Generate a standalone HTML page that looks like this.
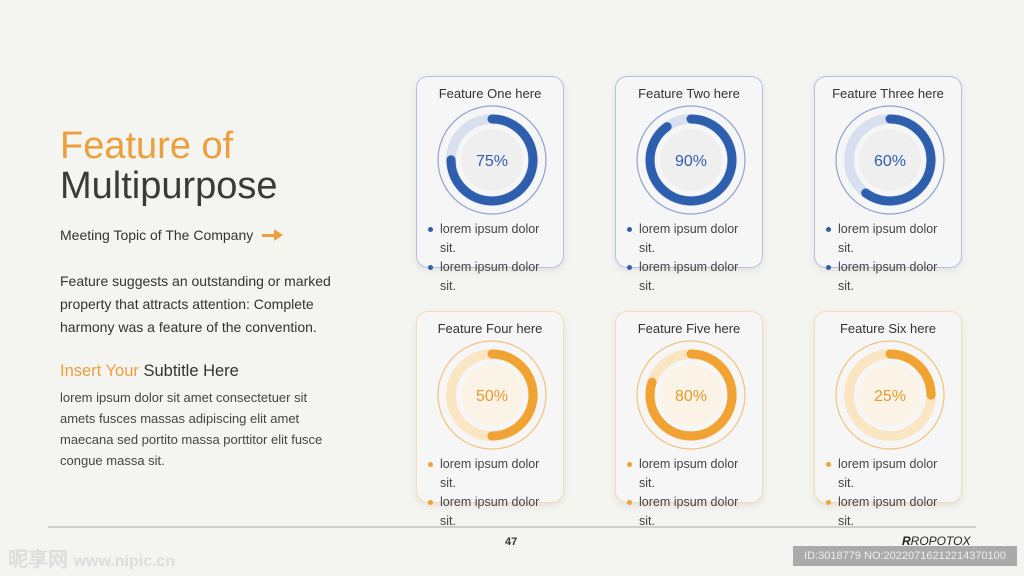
<!DOCTYPE html><html><head><meta charset="utf-8"><style>
body{margin:0;width:1024px;height:576px;background:#f4f4f1;position:relative;overflow:hidden;font-family:"Liberation Sans",sans-serif;color:#333}
.a{position:absolute;white-space:nowrap}
.card{position:absolute;width:146px;height:190px;border-radius:12px;background:#f6f6f6;box-shadow:0 3px 8px rgba(0,0,0,.08)}
.card.b{border:1.5px solid #b5c2df}.card.o{border:1.5px solid #f5dcb4}
.t{position:absolute;top:9px;left:0;width:146px;text-align:center;font-size:13px;color:#333}
.card svg{position:absolute;left:20px;top:28px}
.li{position:absolute;font-size:12.5px;color:#444;line-height:19px;white-space:nowrap}
.li i{position:absolute;left:-12px;top:7px;width:5px;height:5px;border-radius:50%}
</style></head><body>
<div class="a" style="left:60px;top:125px;font-size:38px;color:#eba03d">Feature of</div>
<div class="a" style="left:60px;top:165px;font-size:38px;color:#3a3a3a">Multipurpose</div>
<div class="a" style="left:60px;top:227px;font-size:14px">Meeting Topic of The Company</div>
<div class="a" style="left:262px;top:234px;width:14px;height:3px;background:#eba03d"></div>
<div class="a" style="left:274px;top:229px;width:0;height:0;border-left:9px solid #eba03d;border-top:6px solid transparent;border-bottom:6px solid transparent"></div>
<div class="a" style="left:60px;top:270px;font-size:14px;line-height:23px">Feature suggests an outstanding or marked<br>property that attracts attention: Complete<br>harmony was a feature of the convention.</div>
<div class="a" style="left:60px;top:362px;font-size:16.5px"><span style="color:#eba03d">Insert Your</span> Subtitle Here</div>
<div class="a" style="left:60px;top:387px;font-size:13px;line-height:21px;color:#444">lorem ipsum dolor sit amet consectetuer sit<br>amets fusces massas adipiscing elit amet<br>maecana sed portito massa porttitor elit fusce<br>congue massa sit.</div>

<div class="card b" style="left:416px;top:76px"><div class="t">Feature One here</div>
<svg width="110" height="110"><circle cx="55" cy="55" r="54" fill="none" stroke="#8ea3cf" stroke-width="1.2"/><circle cx="55" cy="55" r="41" fill="none" stroke="#d8e0ef" stroke-width="10"/><circle cx="55" cy="55" r="41" fill="none" stroke="#2e5fae" stroke-width="9" stroke-linecap="round" stroke-dasharray="193.2 300" transform="rotate(-90 55 55)"/><circle cx="55" cy="55" r="31" fill="#efefef"/><text x="55" y="61" text-anchor="middle" font-size="16" fill="#2e5fae" font-family="Liberation Sans">75%</text></svg></div>
<div class="card b" style="left:615px;top:76px"><div class="t">Feature Two here</div>
<svg width="110" height="110"><circle cx="55" cy="55" r="54" fill="none" stroke="#8ea3cf" stroke-width="1.2"/><circle cx="55" cy="55" r="41" fill="none" stroke="#d8e0ef" stroke-width="10"/><circle cx="55" cy="55" r="41" fill="none" stroke="#2e5fae" stroke-width="9" stroke-linecap="round" stroke-dasharray="231.8 300" transform="rotate(-90 55 55)"/><circle cx="55" cy="55" r="31" fill="#efefef"/><text x="55" y="61" text-anchor="middle" font-size="16" fill="#2e5fae" font-family="Liberation Sans">90%</text></svg></div>
<div class="card b" style="left:814px;top:76px"><div class="t">Feature Three here</div>
<svg width="110" height="110"><circle cx="55" cy="55" r="54" fill="none" stroke="#8ea3cf" stroke-width="1.2"/><circle cx="55" cy="55" r="41" fill="none" stroke="#d8e0ef" stroke-width="10"/><circle cx="55" cy="55" r="41" fill="none" stroke="#2e5fae" stroke-width="9" stroke-linecap="round" stroke-dasharray="154.6 300" transform="rotate(-90 55 55)"/><circle cx="55" cy="55" r="31" fill="#efefef"/><text x="55" y="61" text-anchor="middle" font-size="16" fill="#2e5fae" font-family="Liberation Sans">60%</text></svg></div>
<div class="card o" style="left:416px;top:311px"><div class="t">Feature Four here</div>
<svg width="110" height="110"><circle cx="55" cy="55" r="54" fill="none" stroke="#f2c27e" stroke-width="1.2"/><circle cx="55" cy="55" r="41" fill="none" stroke="#fbe6c4" stroke-width="10"/><circle cx="55" cy="55" r="41" fill="none" stroke="#f0a232" stroke-width="9" stroke-linecap="round" stroke-dasharray="128.8 300" transform="rotate(-90 55 55)"/><circle cx="55" cy="55" r="31" fill="#fbf3e6"/><text x="55" y="61" text-anchor="middle" font-size="16" fill="#e8992e" font-family="Liberation Sans">50%</text></svg></div>
<div class="card o" style="left:615px;top:311px"><div class="t">Feature Five here</div>
<svg width="110" height="110"><circle cx="55" cy="55" r="54" fill="none" stroke="#f2c27e" stroke-width="1.2"/><circle cx="55" cy="55" r="41" fill="none" stroke="#fbe6c4" stroke-width="10"/><circle cx="55" cy="55" r="41" fill="none" stroke="#f0a232" stroke-width="9" stroke-linecap="round" stroke-dasharray="206 300" transform="rotate(-90 55 55)"/><circle cx="55" cy="55" r="31" fill="#fbf3e6"/><text x="55" y="61" text-anchor="middle" font-size="16" fill="#e8992e" font-family="Liberation Sans">80%</text></svg></div>
<div class="card o" style="left:814px;top:311px"><div class="t">Feature Six here</div>
<svg width="110" height="110"><circle cx="55" cy="55" r="54" fill="none" stroke="#f2c27e" stroke-width="1.2"/><circle cx="55" cy="55" r="41" fill="none" stroke="#fbe6c4" stroke-width="10"/><circle cx="55" cy="55" r="41" fill="none" stroke="#f0a232" stroke-width="9" stroke-linecap="round" stroke-dasharray="64.4 300" transform="rotate(-90 55 55)"/><circle cx="55" cy="55" r="31" fill="#fbf3e6"/><text x="55" y="61" text-anchor="middle" font-size="16" fill="#e8992e" font-family="Liberation Sans">25%</text></svg></div>

<div class="li" style="left:440px;top:220px"><i style="background:#2e5fae"></i>lorem ipsum dolor<br>sit.</div>
<div class="li" style="left:440px;top:258px"><i style="background:#2e5fae"></i>lorem ipsum dolor<br>sit.</div>
<div class="li" style="left:639px;top:220px"><i style="background:#2e5fae"></i>lorem ipsum dolor<br>sit.</div>
<div class="li" style="left:639px;top:258px"><i style="background:#2e5fae"></i>lorem ipsum dolor<br>sit.</div>
<div class="li" style="left:838px;top:220px"><i style="background:#2e5fae"></i>lorem ipsum dolor<br>sit.</div>
<div class="li" style="left:838px;top:258px"><i style="background:#2e5fae"></i>lorem ipsum dolor<br>sit.</div>
<div class="li" style="left:440px;top:455px"><i style="background:#f0a232"></i>lorem ipsum dolor<br>sit.</div>
<div class="li" style="left:440px;top:493px"><i style="background:#f0a232"></i>lorem ipsum dolor<br>sit.</div>
<div class="li" style="left:639px;top:455px"><i style="background:#f0a232"></i>lorem ipsum dolor<br>sit.</div>
<div class="li" style="left:639px;top:493px"><i style="background:#f0a232"></i>lorem ipsum dolor<br>sit.</div>
<div class="li" style="left:838px;top:455px"><i style="background:#f0a232"></i>lorem ipsum dolor<br>sit.</div>
<div class="li" style="left:838px;top:493px"><i style="background:#f0a232"></i>lorem ipsum dolor<br>sit.</div>

<div class="a" style="left:48px;top:526px;width:928px;height:2px;background:#cfcfcb"></div>
<div class="a" style="left:505px;top:536px;font-size:11px;font-weight:bold">47</div>
<div class="a" style="left:902px;top:534px;font-size:12px;font-style:italic;color:#222"><b>R</b>ROPOTOX</div>
<div class="a" style="left:8px;top:543px;font-size:20px;font-weight:bold;color:#ddd">昵享网 <span style="font-size:16px">www.nipic.cn</span></div>
<div class="a" style="left:793px;top:546px;width:224px;height:20px;background:#aaa;color:#eee;font-size:11px;line-height:20px;text-align:center">ID:3018779 NO:20220716212214370100</div>
</body></html>
